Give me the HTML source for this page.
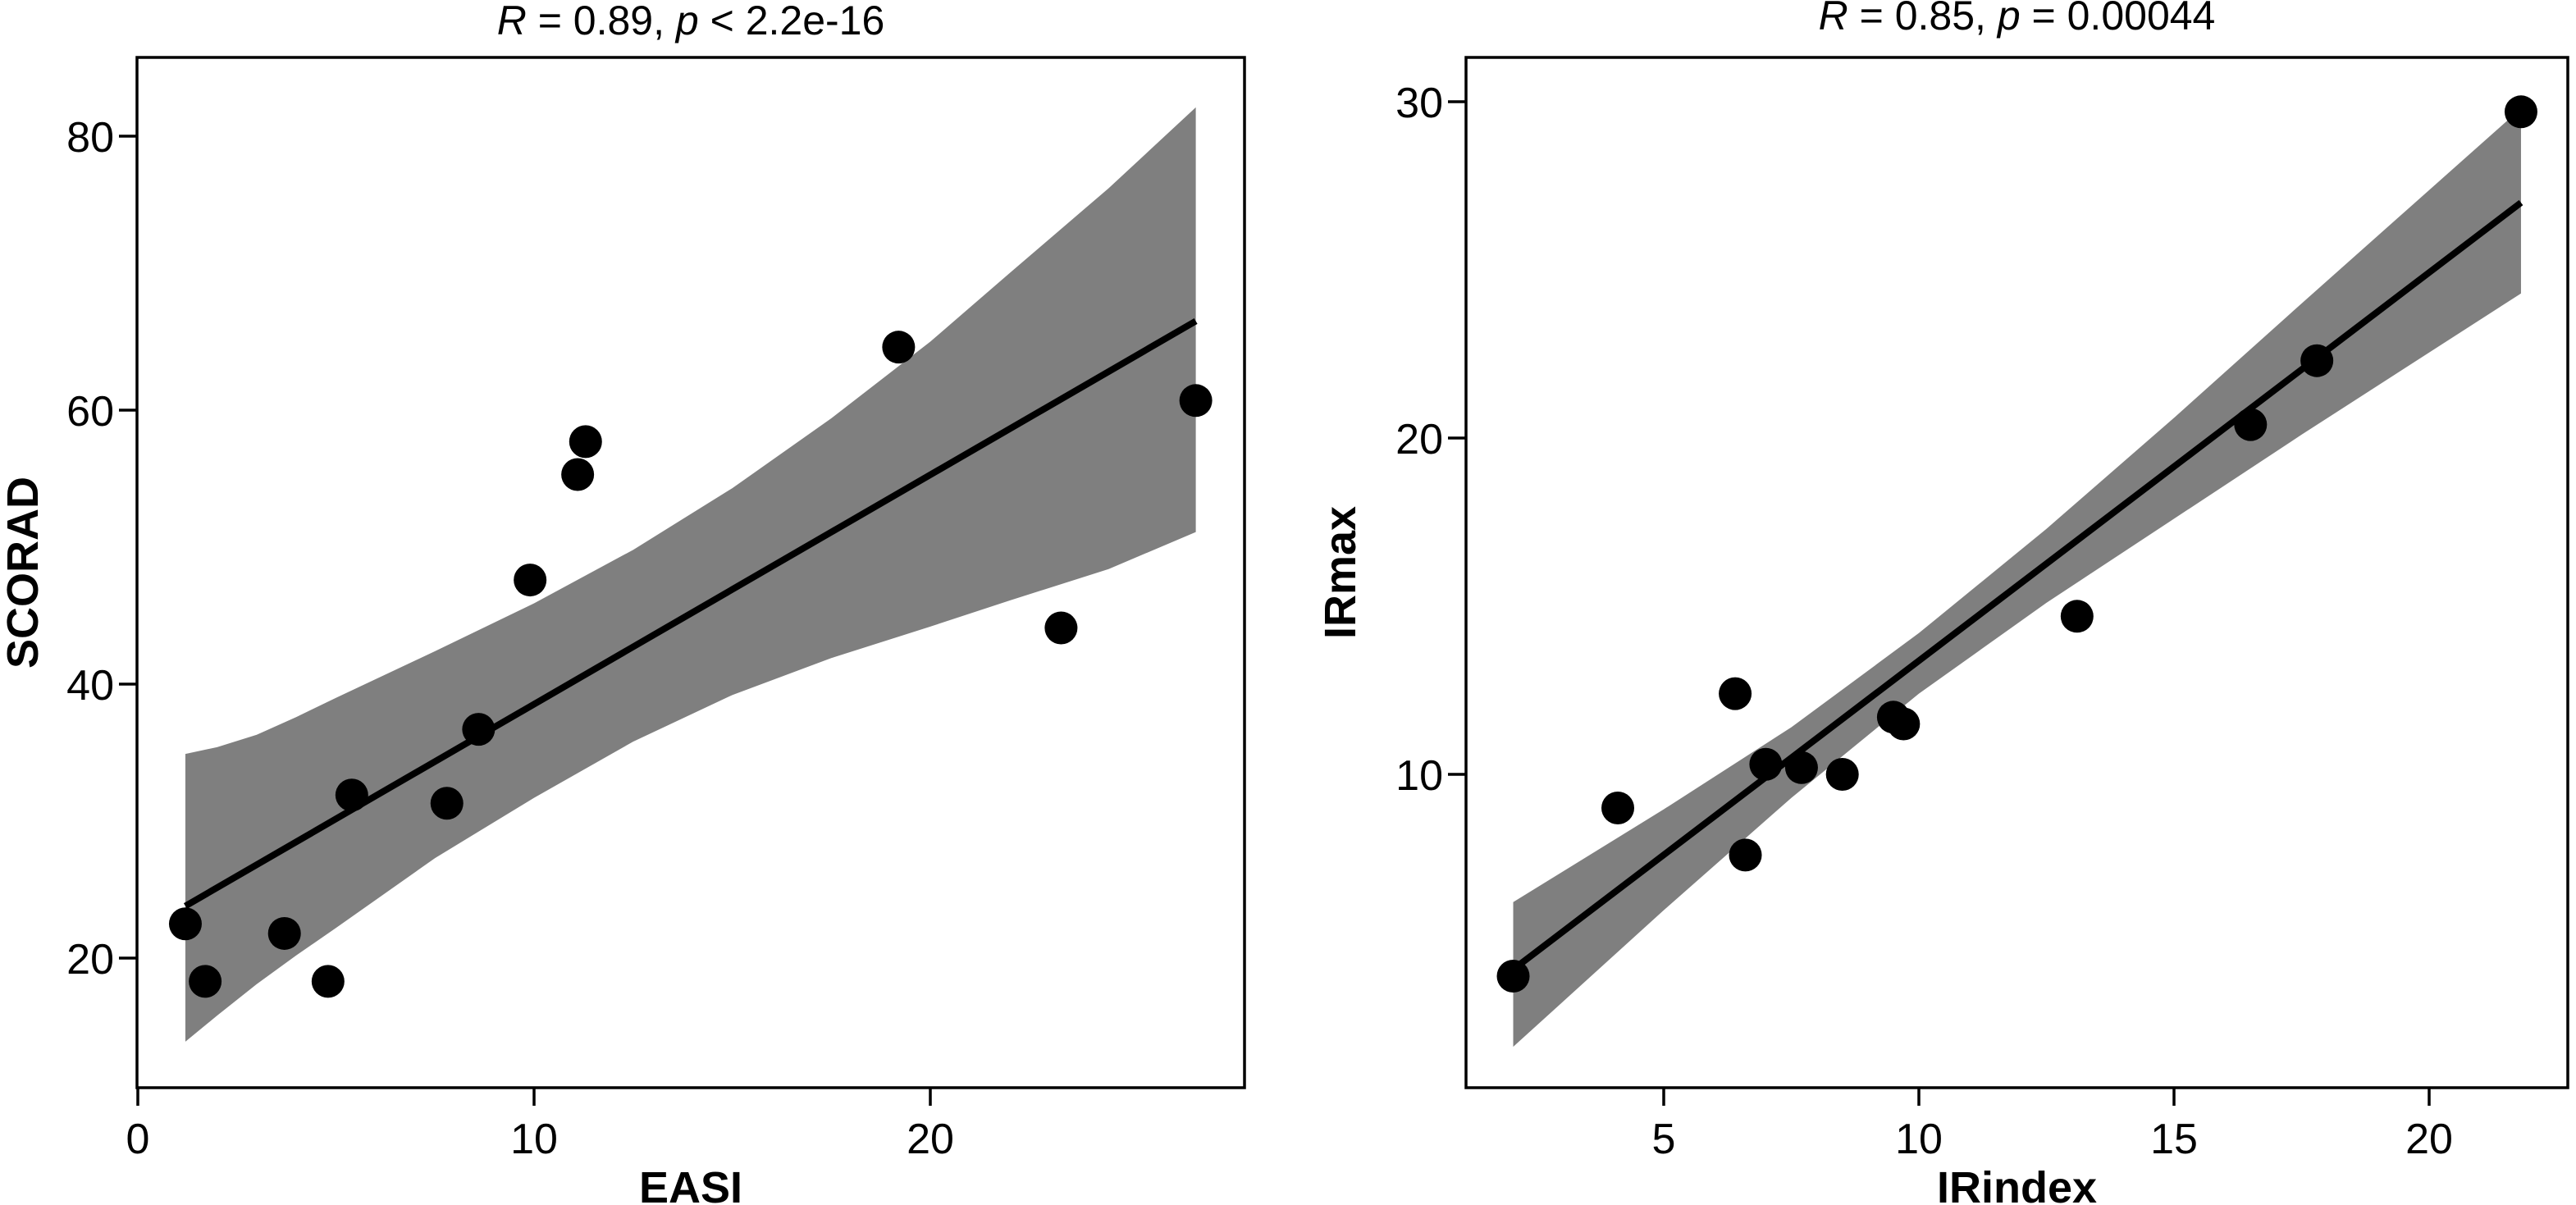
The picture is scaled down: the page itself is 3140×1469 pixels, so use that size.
<!DOCTYPE html>
<html><head><meta charset="utf-8"><style>
html,body{margin:0;padding:0;background:#fff;}
svg{display:block;font-family:"Liberation Sans",sans-serif;}
</style></head><body>
<svg id="chart" width="3140" height="1469" viewBox="0 0 3140 1469"></svg>
<script>
// ---- Left panel data (EASI vs SCORAD)
const easiX = [1.2,1.7,3.7,4.8,5.4,7.8,8.6,9.9,11.1,11.3,19.2,23.3,26.7];
const scoradY = [22.5,18.3,21.8,18.3,31.9,31.3,36.7,47.6,55.3,57.7,64.6,44.1,60.7];
const leftFitX = [1.2,26.7];
const leftFitY = [23.8,66.5];
const leftBandX = [1.2,2,3,4,5,7.5,10,12.5,15,17.5,20,22,24.5,26.7];
const leftBandUpper = [34.9,35.4,36.3,37.6,39.0,42.4,45.9,49.8,54.3,59.4,65,70,76.2,82.1];
const leftBandLower = [13.9,15.8,18.1,20.2,22.2,27.3,31.7,35.8,39.2,41.9,44.2,46.1,48.4,51.1];
const leftXTicks = [0,10,20];
const leftYTicks = [20,40,60,80];
// ---- Right panel data (IRindex vs IRmax)
const irIndexX = [2.05,4.1,6.4,6.6,7.0,7.7,8.5,9.5,9.7,13.1,16.5,17.8,21.8];
const irMaxY = [4.0,9.0,12.4,7.6,10.3,10.2,10.0,11.7,11.5,14.7,20.4,22.3,29.7];
const rightFitX = [2.05,21.8];
const rightFitY = [4.2,27.0];
const rightBandX = [2.05,5,7.5,10,12.5,15,17.5,21.8];
const rightBandUpper = [6.2,8.96,11.4,14.2,17.3,20.6,24.0,29.8];
const rightBandLower = [1.9,5.96,9.3,12.4,15.1,17.6,20.1,24.3];
const rightXTicks = [5,10,15,20];
const rightYTicks = [10,20,30];

const NS="http://www.w3.org/2000/svg";
const svg=document.getElementById('chart');
function mk(tag,attrs,parent){const e=document.createElementNS(NS,tag);for(const k in attrs)e.setAttribute(k,attrs[k]);(parent||svg).appendChild(e);return e;}

function panel(cfg){
  const g=mk('g',{});
  
  
  const sx=v=>cfg.x0px+(v-cfg.x0v)*cfg.xs;
  const sy=v=>cfg.y0px-(v-cfg.y0v)*cfg.ys;
  let d='';
  cfg.bx.forEach((v,i)=>{d+=(i?'L':'M')+sx(v)+','+sy(cfg.bu[i]);});
  for(let i=cfg.bx.length-1;i>=0;i--) d+='L'+sx(cfg.bx[i])+','+sy(cfg.bl[i]);
  const band=mk('path',{d:d+'Z',fill:'#7f7f7f'},g);
  
  
  const ln=mk('line',{x1:sx(cfg.fx[0]),y1:sy(cfg.fy[0]),x2:sx(cfg.fx[1]),y2:sy(cfg.fy[1]),stroke:'#000','stroke-width':8},g);
  
  
  cfg.px.forEach((v,i)=>{
    const c=mk('circle',{cx:sx(v),cy:sy(cfg.py[i]),r:20,fill:'#000'},g);
    
    
  });
  const box=mk('rect',{x:cfg.L,y:cfg.T,width:cfg.R-cfg.L,height:cfg.B-cfg.T,fill:'none',stroke:'#000','stroke-width':3.5},g);
  
  
  cfg.xt.forEach(v=>{
    const t=mk('line',{x1:sx(v),x2:sx(v),y1:cfg.B,y2:cfg.B+22,stroke:'#000','stroke-width':3.5},g);
    
    
    const l=mk('text',{x:sx(v),y:cfg.B+80,'font-size':52,'text-anchor':'middle'},g);
    l.textContent=v;
    
    
  });
  cfg.yt.forEach(v=>{
    const t=mk('line',{x1:cfg.L-22,x2:cfg.L,y1:sy(v),y2:sy(v),stroke:'#000','stroke-width':3.5},g);
    
    
    const l=mk('text',{x:cfg.L-28,y:sy(v)+19,'font-size':52,'text-anchor':'end'},g);
    l.textContent=v;
    
    
  });
  const xt=mk('text',{x:(cfg.L+cfg.R)/2,y:1466,'font-size':54,'font-weight':'bold','text-anchor':'middle'},g);
  xt.textContent=cfg.xlabel;
  
  
  const cy=(cfg.T+cfg.B)/2;
  const yt=mk('text',{x:cfg.ylx,y:cy,'font-size':54,'font-weight':'bold','text-anchor':'middle',transform:'rotate(-90 '+cfg.ylx+' '+cy+')'},g);
  yt.textContent=cfg.ylabel;
  
  
  const tt=mk('text',{x:(cfg.L+cfg.R)/2,y:cfg.titleY,'font-size':50,'text-anchor':'middle'},g);
  tt.innerHTML=cfg.title;
  
  
}

panel({name:'left-panel',L:167,R:1517,T:70,B:1326,x0px:168,x0v:0,xs:48.3,y0px:1168,y0v:20,ys:16.7,
  bx:leftBandX,bu:leftBandUpper,bl:leftBandLower,fx:leftFitX,fy:leftFitY,px:easiX,py:scoradY,
  xt:leftXTicks,yt:leftYTicks,xlabel:'EASI',ylabel:'SCORAD',ylx:46,titleY:42,
  title:'<tspan font-style="italic">R</tspan> = 0.89, <tspan font-style="italic">p</tspan> &lt; 2.2e-16'});
panel({name:'right-panel',L:1787,R:3130,T:70,B:1326,x0px:2028,x0v:5,xs:62.2,y0px:944,y0v:10,ys:41,
  bx:rightBandX,bu:rightBandUpper,bl:rightBandLower,fx:rightFitX,fy:rightFitY,px:irIndexX,py:irMaxY,
  xt:rightXTicks,yt:rightYTicks,xlabel:'IRindex',ylabel:'IRmax',ylx:1652,titleY:36,
  title:'<tspan font-style="italic">R</tspan> = 0.85, <tspan font-style="italic">p</tspan> = 0.00044'});
</script>
</body></html>
